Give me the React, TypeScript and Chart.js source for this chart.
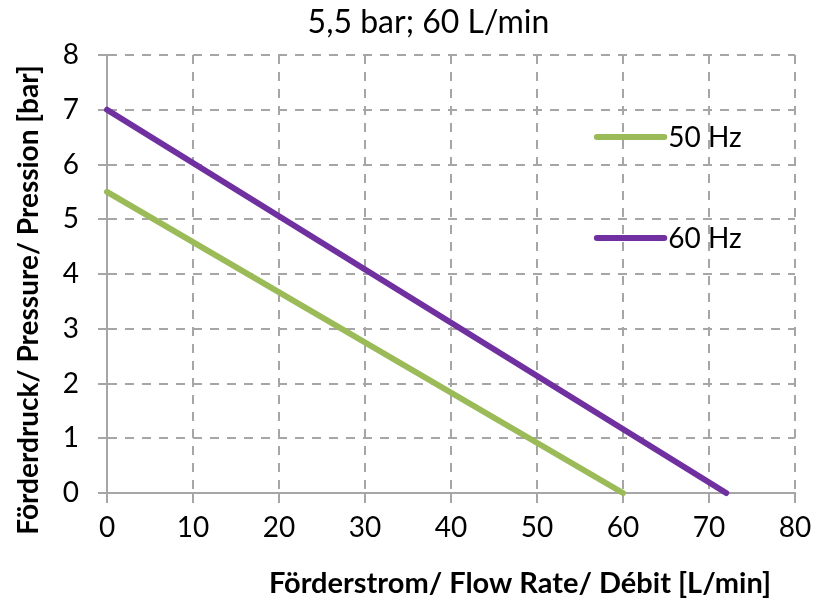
import React, { useEffect, useRef } from "react";
import { Chart, registerables } from "chart.js";

Chart.register(...registerables);

const CHART_TITLE = "5,5 bar; 60 L/min";
const X_TITLE = "Förderstrom/ Flow Rate/ Débit [L/min]";
const Y_TITLE = "Förderdruck/ Pressure/ Pression [bar]";
const SERIES_NAMES = ["50 Hz", "60 Hz"];
const FLOW_50HZ = [0, 60];
const PRESSURE_50HZ = [5.5, 0];
const FLOW_60HZ = [0, 72];
const PRESSURE_60HZ = [7, 0];
const X_MIN = 0;
const X_MAX = 80;
const X_STEP = 10;
const Y_MIN = 0;
const Y_MAX = 8;
const Y_STEP = 1;

const COLORS = ["#9bbb59", "#7030a0"];
const GRID = "#a6a6a6";
const TICK_FONT = { family: "Lato", size: 28 };

const toPoints = (xs: number[], ys: number[]) => xs.map((x, i) => ({ x, y: ys[i] }));

const textPlugin = {
  id: "customText",
  afterDraw(chart: any) {
    const { ctx, chartArea: a } = chart;
    ctx.save();
    ctx.fillStyle = "#000";
    ctx.textBaseline = "middle";
    ctx.textAlign = "center";
    ctx.font = "32px Lato";
    ctx.fillText(CHART_TITLE, chart.width / 2 + 18, 23);
    ctx.font = "bold 29px Lato";
    ctx.fillText(X_TITLE, (a.left + a.right) / 2 + 69, 584);
    ctx.save();
    ctx.translate(29, (a.top + a.bottom) / 2 + 26);
    ctx.rotate(-Math.PI / 2);
    ctx.font = "bold 28px Lato";
    ctx.fillText(Y_TITLE, 0, 0);
    ctx.restore();
    const w = a.right - a.left;
    const h = a.bottom - a.top;
    const ys = [a.top + h * 0.187, a.top + h * 0.418];
    SERIES_NAMES.forEach((name, i) => {
      const y = ys[i];
      const x0 = a.left + w * 0.712;
      const x1 = a.left + w * 0.81;
      ctx.strokeStyle = COLORS[i];
      ctx.lineWidth = 6;
      ctx.lineCap = "round";
      ctx.beginPath();
      ctx.moveTo(x0, y);
      ctx.lineTo(x1, y);
      ctx.stroke();
      ctx.textAlign = "left";
      ctx.font = "28px Lato";
      ctx.fillStyle = "#000";
      ctx.fillText(name, x1 + 4, y + 1);
    });
    ctx.restore();
  },
};

export default function App() {
  const ref = useRef<HTMLCanvasElement | null>(null);
  useEffect(() => {
    document.body.style.margin = "0";
    const chart = new Chart(ref.current as HTMLCanvasElement, {
      type: "line",
      data: {
        datasets: [
          {
            label: SERIES_NAMES[0],
            data: toPoints(FLOW_50HZ, PRESSURE_50HZ),
            borderColor: COLORS[0],
            borderWidth: 6,
            borderCapStyle: "round",
            pointRadius: 0,
            tension: 0,
            fill: false,
            clip: false as any,
          },
          {
            label: SERIES_NAMES[1],
            data: toPoints(FLOW_60HZ, PRESSURE_60HZ),
            borderColor: COLORS[1],
            borderWidth: 6,
            borderCapStyle: "round",
            pointRadius: 0,
            tension: 0,
            fill: false,
            clip: false as any,
          },
        ],
      },
      options: {
        responsive: false,
        animation: false,
        layout: { padding: { left: 57, top: 55, right: 26, bottom: 70 } },
        plugins: { legend: { display: false }, title: { display: false }, tooltip: { enabled: false } },
        scales: {
          x: {
            type: "linear",
            min: X_MIN,
            max: X_MAX,
            afterFit: (s: any) => {
              s.height = 45;
            },
            ticks: { stepSize: X_STEP, color: "#000", font: TICK_FONT, padding: 8, maxRotation: 0 },
            grid: { color: GRID, lineWidth: 2, tickLength: 10, tickColor: GRID, tickWidth: 2 },
            border: { display: true, color: GRID, width: 2, dash: [9, 8] },
          },
          y: {
            type: "linear",
            min: Y_MIN,
            max: Y_MAX,
            afterFit: (s: any) => {
              s.width = 50;
            },
            ticks: { stepSize: Y_STEP, color: "#000", font: TICK_FONT, padding: 19 },
            grid: { color: GRID, lineWidth: 2, tickLength: 9, tickColor: GRID, tickWidth: 2 },
            border: { display: true, color: GRID, width: 2, dash: [9, 8] },
          },
        },
      },
      plugins: [textPlugin],
    } as any);
    return () => chart.destroy();
  }, []);
  return (
    <canvas
      ref={ref}
      width={821}
      height={608}
      style={{ display: "block", position: "fixed", left: 0, top: 0 }}
    />
  );
}
